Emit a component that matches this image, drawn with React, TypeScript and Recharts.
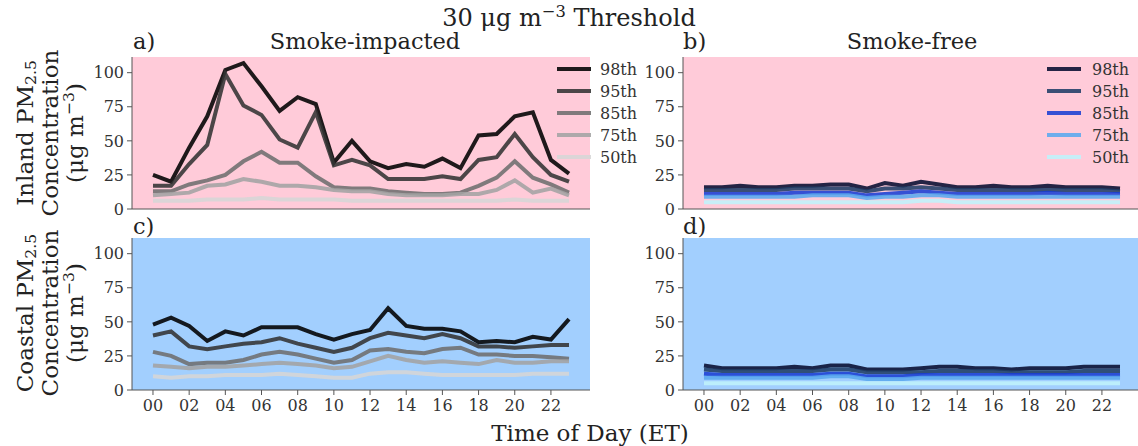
import React from "react";
import { LineChart, Line, XAxis, YAxis, CartesianGrid } from "recharts";

const hours = [0, 1, 2, 3, 4, 5, 6, 7, 8, 9, 10, 11, 12, 13, 14, 15, 16, 17, 18, 19, 20, 21, 22, 23];
const percentiles = ["98th", "95th", "85th", "75th", "50th"];
const keys = ["p98", "p95", "p85", "p75", "p50"];
const xTicks = [0, 2, 4, 6, 8, 10, 12, 14, 16, 18, 20, 22];
const yTicks = [0, 25, 50, 75, 100];

// a) inland, smoke-impacted
const inlandSmoke98 = [25, 20, 45, 68, 102, 107, 90, 72, 82, 77, 34, 50, 35, 30, 33, 31, 37, 30, 54, 55, 68, 71, 36, 26];
const inlandSmoke95 = [17, 17, 33, 47, 99, 76, 69, 51, 45, 71, 32, 36, 32, 22, 22, 22, 24, 22, 36, 38, 55, 38, 25, 20];
const inlandSmoke85 = [13, 13, 18, 21, 25, 35, 42, 34, 34, 24, 16, 15, 15, 13, 12, 11, 11, 12, 17, 23, 35, 23, 18, 12];
const inlandSmoke75 = [10, 11, 12, 17, 18, 22, 20, 17, 17, 16, 14, 13, 13, 11, 10, 10, 10, 11, 11, 14, 21, 12, 15, 10];
const inlandSmoke50 = [6, 6, 6, 7, 7, 7, 8, 7, 7, 7, 7, 6, 6, 6, 6, 6, 6, 6, 6, 6, 7, 6, 6, 6];

// b) inland, smoke-free
const inlandFree98 = [16, 16, 17, 16, 16, 17, 17, 18, 18, 15, 19, 17, 20, 18, 16, 16, 17, 16, 16, 17, 16, 16, 16, 15];
const inlandFree95 = [14, 14, 14, 14, 14, 15, 15, 15, 15, 13, 15, 15, 16, 15, 14, 14, 14, 14, 14, 14, 14, 14, 14, 13];
const inlandFree85 = [11, 11, 11, 11, 11, 12, 12, 12, 12, 10, 11, 12, 13, 12, 11, 11, 11, 11, 11, 12, 11, 11, 11, 11];
const inlandFree75 = [9, 9, 9, 9, 9, 9, 10, 10, 10, 8, 9, 9, 10, 10, 9, 9, 9, 9, 9, 9, 9, 9, 9, 9];
const inlandFree50 = [5, 5, 5, 5, 5, 5, 5, 5, 5, 5, 5, 5, 6, 6, 5, 5, 5, 5, 5, 5, 5, 5, 5, 5];

// c) coastal, smoke-impacted
const coastalSmoke98 = [48, 53, 47, 36, 43, 40, 46, 46, 46, 41, 37, 41, 44, 60, 47, 45, 45, 43, 35, 36, 35, 39, 37, 52];
const coastalSmoke95 = [40, 43, 32, 30, 32, 34, 35, 38, 34, 31, 28, 31, 38, 42, 40, 38, 41, 38, 32, 32, 31, 32, 33, 33];
const coastalSmoke85 = [28, 25, 19, 20, 20, 22, 26, 28, 26, 23, 20, 22, 29, 30, 28, 27, 30, 31, 26, 26, 25, 25, 24, 23];
const coastalSmoke75 = [18, 17, 16, 17, 17, 18, 19, 20, 19, 18, 16, 17, 21, 25, 22, 20, 21, 20, 19, 22, 20, 20, 21, 21];
const coastalSmoke50 = [10, 9, 10, 10, 11, 11, 11, 12, 11, 10, 9, 9, 12, 13, 13, 12, 11, 11, 11, 11, 11, 12, 12, 12];

// d) coastal, smoke-free
const coastalFree98 = [18, 16, 16, 16, 16, 17, 16, 18, 18, 15, 15, 15, 16, 17, 17, 16, 16, 15, 16, 16, 16, 17, 17, 17];
const coastalFree95 = [15, 14, 14, 14, 14, 14, 14, 15, 15, 13, 13, 13, 13, 14, 14, 14, 14, 13, 13, 13, 13, 14, 14, 14];
const coastalFree85 = [12, 11, 11, 11, 11, 11, 11, 12, 12, 10, 10, 10, 11, 11, 11, 11, 11, 11, 11, 11, 11, 11, 11, 11];
const coastalFree75 = [9, 9, 9, 9, 9, 9, 9, 10, 10, 8, 8, 8, 9, 9, 9, 9, 9, 9, 9, 9, 9, 9, 9, 9];
const coastalFree50 = [5, 5, 5, 5, 5, 5, 5, 5, 5, 5, 5, 5, 5, 5, 5, 5, 5, 5, 5, 5, 5, 5, 5, 5];

const grayColors = ["#000000", "#333333", "#6e6e6e", "#a3a3a3", "#d6d6d6"];
const blueColors = ["#070d30", "#203e66", "#1a3fd3", "#5aa8ee", "#bff2fb"];
const pinkBg = "#ffcbd9";
const blueBg = "#a2cffe";
const axisColor = "#555";
const font = "'DejaVu Serif', serif";

function toRows(series: number[][]) {
  return hours.map((h, i) => {
    const row: Record<string, number> = { hour: h };
    keys.forEach((k, j) => (row[k] = series[j][i]));
    return row;
  });
}

const rowsA = toRows([inlandSmoke98, inlandSmoke95, inlandSmoke85, inlandSmoke75, inlandSmoke50]);
const rowsB = toRows([inlandFree98, inlandFree95, inlandFree85, inlandFree75, inlandFree50]);
const rowsC = toRows([coastalSmoke98, coastalSmoke95, coastalSmoke85, coastalSmoke75, coastalSmoke50]);
const rowsD = toRows([coastalFree98, coastalFree95, coastalFree85, coastalFree75, coastalFree50]);

const tickStyle = { fontFamily: font, fontSize: 16, fill: "#333" };

function Panel({ rows, colors, bg, left, top, bottomRow }: any) {
  const xH = bottomRow ? 30 : 10;
  return (
    <div style={{ position: "absolute", left, top }}>
      <LineChart width={498} height={152 + xH} data={rows} margin={{ top: 0, right: 0, bottom: 0, left: 0 }}>
        <CartesianGrid fill={bg} horizontal={false} vertical={false} stroke="none" />
        <XAxis
          type="number"
          dataKey="hour"
          domain={[-1.16, 24.16]}
          ticks={xTicks}
          allowDataOverflow
          tickFormatter={(v: number) => String(v).padStart(2, "0")}
          height={xH}
          tick={bottomRow ? tickStyle : false}
          tickSize={5}
          tickMargin={5}
          stroke={axisColor}
        />
        <YAxis
          type="number"
          domain={[0, 111.5]}
          ticks={yTicks}
          allowDataOverflow
          width={40}
          tick={tickStyle}
          tickSize={5}
          tickMargin={3}
          stroke={axisColor}
        />
        {keys.map((k, i) => (
          <Line
            key={k}
            type="linear"
            dataKey={k}
            stroke={colors[i]}
            strokeWidth={4}
            strokeOpacity={0.88}
            dot={false}
            isAnimationActive={false}
          />
        ))}
      </LineChart>
    </div>
  );
}

function Legend({ colors, lineLeft, textLeft }: any) {
  return (
    <>
      {percentiles.map((p, i) => (
        <React.Fragment key={p}>
          <div
            style={{
              position: "absolute",
              left: lineLeft,
              top: 69 + i * 22 - 2,
              width: 34,
              height: 4,
              background: colors[i],
              opacity: 0.88,
            }}
          />
          <div
            style={{
              position: "absolute",
              left: textLeft,
              top: 69 + i * 22,
              transform: "translateY(-50%)",
              fontSize: 16,
              color: "#333",
              whiteSpace: "nowrap",
            }}
          >
            {p}
          </div>
        </React.Fragment>
      ))}
    </>
  );
}

const supStyle: React.CSSProperties = { fontSize: "0.68em", verticalAlign: "0.55em", lineHeight: 0 };
const subStyle: React.CSSProperties = { fontSize: "0.68em", verticalAlign: "-0.25em", lineHeight: 0 };

function YLabel({ site, cy }: { site: string; cy: number }) {
  return (
    <div
      style={{
        position: "absolute",
        left: 50,
        top: cy,
        transform: "translate(-50%, -50%) rotate(-90deg)",
        textAlign: "center",
        lineHeight: "25px",
        fontSize: 23,
        whiteSpace: "nowrap",
        color: "#222",
      }}
    >
      <div>
        {site} PM<span style={subStyle}>2.5</span>
      </div>
      <div>Concentration</div>
      <div>
        (μg m<span style={supStyle}>−3</span>)
      </div>
    </div>
  );
}

function Text({ x, y, children, size = 22.5, center = true }: any) {
  return (
    <div
      style={{
        position: "absolute",
        left: x,
        top: y,
        transform: center ? "translate(-50%, -50%)" : "translateY(-50%)",
        fontSize: size,
        whiteSpace: "nowrap",
        color: "#222",
      }}
    >
      {children}
    </div>
  );
}

export default function App() {
  return (
    <div
      style={{
        position: "absolute",
        left: 0,
        top: 0,
        width: 1138,
        height: 446,
        overflow: "hidden",
        background: "#fff",
        fontFamily: font,
      }}
    >
      <Panel rows={rowsA} colors={grayColors} bg={pinkBg} left={92} top={57} bottomRow={false} />
      <Panel rows={rowsB} colors={blueColors} bg={pinkBg} left={643} top={57} bottomRow={false} />
      <Panel rows={rowsC} colors={grayColors} bg={blueBg} left={92} top={238} bottomRow={true} />
      <Panel rows={rowsD} colors={blueColors} bg={blueBg} left={643} top={238} bottomRow={true} />

      <Legend colors={grayColors} lineLeft={557} textLeft={600} />
      <Legend colors={blueColors} lineLeft={1047} textLeft={1092} />

      <Text x={569} y={18} size={24}>
        30 μg m<span style={supStyle}>−3</span> Threshold
      </Text>
      <Text x={133} y={41} center={false}>a)</Text>
      <Text x={365} y={41}>Smoke-impacted</Text>
      <Text x={683} y={41} center={false}>b)</Text>
      <Text x={912} y={41}>Smoke-free</Text>
      <Text x={133} y={226} center={false}>c)</Text>
      <Text x={683} y={226} center={false}>d)</Text>
      <Text x={590} y={433} size={23}>Time of Day (ET)</Text>

      <YLabel site="Inland" cy={133} />
      <YLabel site="Coastal" cy={313} />
    </div>
  );
}
